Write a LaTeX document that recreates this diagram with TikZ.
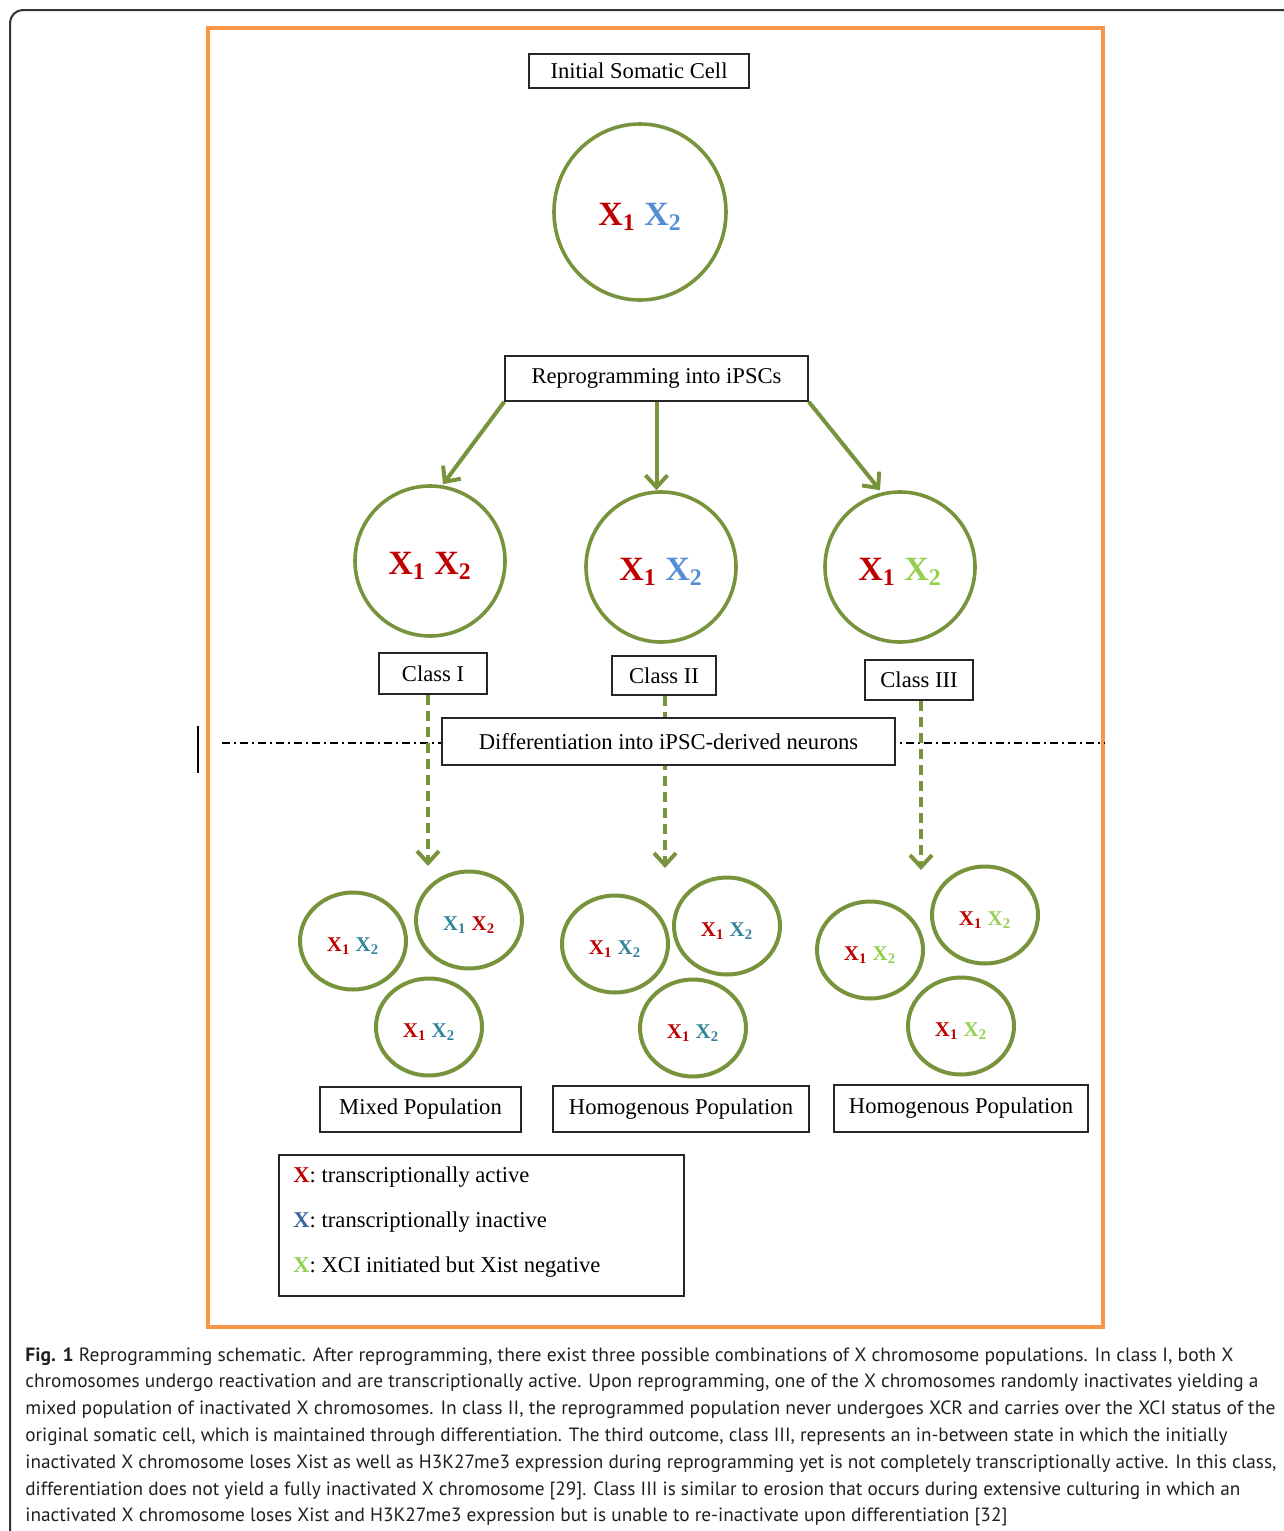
\documentclass[tikz,border=0pt]{standalone}
\usepackage{fontspec}
\setmainfont{Liberation Serif}
\newfontfamily\capfont{PT Sans}
\usepackage{graphicx}
\usetikzlibrary{arrows.meta,shapes.geometric}
\definecolor{cellgreen}{HTML}{77933C}
\definecolor{xred}{HTML}{C00000}
\definecolor{xblue}{HTML}{558ED5}
\definecolor{xteal}{HTML}{31849B}
\definecolor{xlime}{HTML}{92D050}
\definecolor{xdarkblue}{HTML}{3B64A0}
\definecolor{frameorange}{HTML}{F79646}
\definecolor{captext}{HTML}{231F20}
\newcommand\chrpair[2]{\raisebox{-2.5pt}[\height][\depth]{\textbf{\textcolor{#1}{X\textsubscript{1}} \textcolor{#2}{X\textsubscript{2}}}}}
\newcommand\capline[2]{\resizebox{#1}{\height}{#2}}
\begin{document}
\begin{tikzpicture}[x=0.5pt,y=-0.5pt,
  lbl/.style={draw=black!85, line width=0.8pt, fill=white, inner sep=0pt, font=\fontsize{11.3}{13}\selectfont},
  bigcell/.style={ellipse, draw=cellgreen, line width=1.8pt, inner sep=0pt, font=\fontsize{17}{20}\selectfont},
  smallcell/.style={ellipse, draw=cellgreen, line width=2pt, inner sep=0pt, minimum width=53pt, minimum height=48.5pt, font=\fontsize{10.5}{12}\selectfont},
  garrow/.style={draw=cellgreen, line width=2pt, -{Straight Barb[length=6pt,width=11pt]}},
  darrow/.style={garrow, dash pattern=on 5pt off 3pt},
  legtext/.style={anchor=west, inner sep=0pt, font=\fontsize{11.3}{13}\selectfont},
  captionline/.style={anchor=base west, inner sep=0pt, text=captext, font=\capfont\fontsize{9.6}{12}\selectfont}]
\useasboundingbox (0,0) rectangle (1284,1531);
\begin{scope}
  \clip (0,0) rectangle (1284,1531);
  \draw[draw=black!80, line width=1pt, rounded corners=6.5pt] (10,10) rectangle (1300,1560);
\end{scope}
% orange frame
\draw[frameorange, line width=1.6pt] (208,28) rectangle (1103,1327);

% top
\node[lbl, minimum width=110pt, minimum height=17pt] (init) at (639,71) {Initial Somatic Cell};
\node[bigcell, minimum width=86pt, minimum height=88pt] (c0) at (640,212) {\chrpair{xred}{xblue}};
\node[lbl, minimum width=151.5pt, minimum height=22.5pt] (rep) at (656.5,378.5) {Reprogramming into iPSCs};

% class cells
\node[bigcell, minimum width=75pt, minimum height=75pt] (c1) at (430,561) {\chrpair{xred}{xred}};
\node[bigcell, minimum width=75pt, minimum height=75pt] (c2) at (661,567) {\chrpair{xred}{xblue}};
\node[bigcell, minimum width=75pt, minimum height=75pt] (c3) at (900,567) {\chrpair{xred}{xlime}};

\draw[garrow] (rep.south west) -- ([xshift=6.5pt]c1.north);
\draw[garrow] (rep.south) -- (rep.south |- c2.north);
\draw[garrow] (rep.south east) -- ([xshift=-10pt]c3.north);

\node[lbl, minimum width=54pt, minimum height=20.5pt] (cl1) at (433,673.5) {Class I};
\node[lbl, minimum width=52pt, minimum height=19.5pt] (cl2) at (664,675.5) {Class II};
\node[lbl, minimum width=54pt, minimum height=20pt] (cl3) at (919,680) {Class III};

% separator line
\coordinate (dl) at (222,743);
\coordinate (dr) at (1105,743);
\draw[black, line width=0.8pt, dash pattern=on 4pt off 2pt on 1pt off 2pt] (dl) -- (dr);
\coordinate (vt) at (198,726);
\coordinate (vb) at (198,773);
\draw[black, line width=1pt] (vt) -- (vb);

% dashed arrows
\coordinate (t1) at (428,866);
\coordinate (t2) at (665,868);
\coordinate (t3) at (921,870);
\draw[darrow] (t1 |- cl1.south) -- (t1);
\draw[darrow] (t2 |- cl2.south) -- (t2);
\draw[darrow] (t3 |- cl3.south) -- (t3);

\node[lbl, minimum width=226.5pt, minimum height=23.5pt] (diff) at (668.5,741.5) {Differentiation into iPSC-derived neurons};

% small cells group 1
\node[smallcell] (a1) at (353,941) {\chrpair{xred}{xteal}};
\node[smallcell] (a2) at (469,920) {\chrpair{xteal}{xred}};
\node[smallcell] (a3) at (429,1027) {\chrpair{xred}{xteal}};
% group 2
\node[smallcell] (b1) at (615,944) {\chrpair{xred}{xteal}};
\node[smallcell] (b2) at (727,926) {\chrpair{xred}{xteal}};
\node[smallcell] (b3) at (693,1028) {\chrpair{xred}{xteal}};
% group 3
\node[smallcell] (d1) at (870,950) {\chrpair{xred}{xlime}};
\node[smallcell] (d2) at (985,915) {\chrpair{xred}{xlime}};
\node[smallcell] (d3) at (961,1026) {\chrpair{xred}{xlime}};

\node[lbl, minimum width=100.5pt, minimum height=22.5pt] (mix) at (420.5,1109.5) {Mixed Population};
\node[lbl, minimum width=128pt, minimum height=23pt] (hom1) at (681,1109) {Homogenous Population};
\node[lbl, minimum width=127pt, minimum height=23.5pt] (hom2) at (961,1108.5) {Homogenous Population};

% legend
\node[lbl, minimum width=202.5pt, minimum height=70.5pt] (legend) at (481.5,1225.5) {};
\node[legtext] (l1) at (293,1177) {\textbf{\textcolor{xred}{X}}: transcriptionally active};
\node[legtext] (l2) at (293,1222) {\textbf{\textcolor{xdarkblue}{X}}: transcriptionally inactive};
\node[legtext] (l3) at (293,1267) {\textbf{\textcolor{xlime}{X}}: XCI initiated but Xist negative};

% caption
\node[captionline] (cap1) at (25,1361) {\capline{604pt}{\textbf{Fig. 1} Reprogramming schematic. After reprogramming, there exist three possible combinations of X chromosome populations. In class I, both X}};
\node[captionline] (cap2) at (25,1387.8) {\capline{616.5pt}{chromosomes undergo reactivation and are transcriptionally active. Upon reprogramming, one of the X chromosomes randomly inactivates yielding a}};
\node[captionline] (cap3) at (25,1414.6) {\capline{625pt}{mixed population of inactivated X chromosomes. In class II, the reprogrammed population never undergoes XCR and carries over the XCI status of the}};
\node[captionline] (cap4) at (25,1441.4) {\capline{601pt}{original somatic cell, which is maintained through differentiation. The third outcome, class III, represents an in-between state in which the initially}};
\node[captionline] (cap5) at (25,1468.2) {\capline{625.5pt}{inactivated X chromosome loses Xist as well as H3K27me3 expression during reprogramming yet is not completely transcriptionally active. In this class,}};
\node[captionline] (cap6) at (25,1495) {\capline{607.5pt}{differentiation does not yield a fully inactivated X chromosome [29]. Class III is similar to erosion that occurs during extensive culturing in which an}};
\node[captionline] (cap7) at (25,1521.8) {\capline{491pt}{inactivated X chromosome loses Xist and H3K27me3 expression but is unable to re-inactivate upon differentiation [32]}};
\end{tikzpicture}
\end{document}
